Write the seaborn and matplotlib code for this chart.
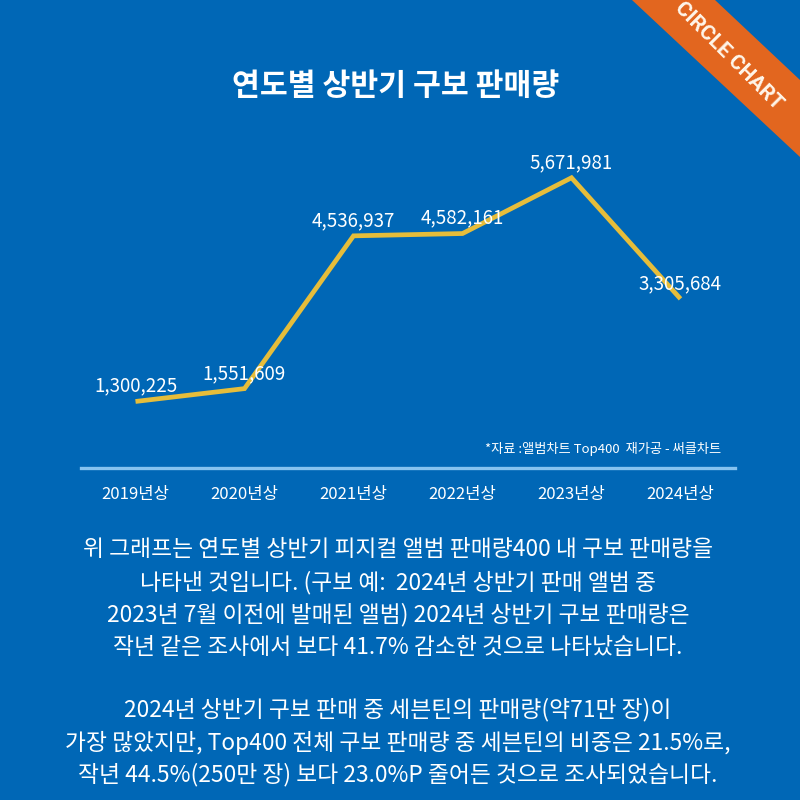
import matplotlib
matplotlib.use("Agg")
import matplotlib.pyplot as plt
from matplotlib.patches import Polygon
import seaborn as sns
import pandas as pd

# ---- data ----
periods = ["2019년상", "2020년상", "2021년상", "2022년상", "2023년상", "2024년상"]
sales = [1300225, 1551609, 4536937, 4582161, 5671981, 3305684]

title = "연도별 상반기 구보 판매량"
source_note = "*자료 :앨범차트 Top400  재가공 - 써클차트"
badge = "CIRCLE CHART"
body_lines = [
    "위 그래프는 연도별 상반기 피지컬 앨범 판매량400 내 구보 판매량을",
    "나타낸 것입니다. (구보 예:  2024년 상반기 판매 앨범 중",
    "2023년 7월 이전에 발매된 앨범) 2024년 상반기 구보 판매량은",
    "작년 같은 조사에서 보다 41.7% 감소한 것으로 나타났습니다.",
    "2024년 상반기 구보 판매 중 세븐틴의 판매량(약71만 장)이",
    "가장 많았지만, Top400 전체 구보 판매량 중 세븐틴의 비중은 21.5%로,",
    "작년 44.5%(250만 장) 보다 23.0%P 줄어든 것으로 조사되었습니다.",
]

# ---- style ----
BG = "#0067B6"
GOLD = "#E6BD3A"
AXIS = "#86C3F0"
ORANGE = "#E2661F"

sns.set_theme(style="white")
plt.rcParams["font.family"] = ["Noto Sans CJK KR", "DejaVu Sans"]

W = H = 800
fig = plt.figure(figsize=(8, 8), dpi=100, facecolor=BG)

def fx(px):
    return px / W

def fy(py):
    return 1 - py / H

# axes: x from 81 to 735 px, y from 140 to 468 px
ax = fig.add_axes([fx(81), fy(468), fx(735) - fx(81), fy(140) - fy(468)])
ax.set_facecolor(BG)

df = pd.DataFrame({"period": periods, "sales": sales})
sns.lineplot(data=df, x="period", y="sales", ax=ax, color=GOLD, linewidth=3.4,
             sort=False, solid_joinstyle="miter", solid_capstyle="butt")

ax.set_xlim(-0.5, len(periods) - 0.5)
ax.set_ylim(0, (468 - 140) / 51.17 * 1e6)

for i, v in enumerate(sales):
    ax.annotate(f"{v:,}", xy=(i, v), xytext=(0, 11), textcoords="offset points",
                ha="center", va="center", color="white", fontsize=13.5)

for s in ["left", "right", "top"]:
    ax.spines[s].set_visible(False)
ax.spines["bottom"].set_color(AXIS)
ax.spines["bottom"].set_linewidth(2.4)
ax.set_yticks([])
ax.set_xlabel("")
ax.set_ylabel("")
ax.tick_params(axis="x", length=0, pad=13, labelsize=12, labelcolor="white")

# title
fig.text(fx(396), fy(86), title, ha="center", va="center", color="white",
         fontsize=21.8, fontweight="bold")

# source note
fig.text(fx(721), fy(449), source_note, ha="right", va="center", color="white",
         fontsize=9.5)

# body text
body_y = [550, 583, 615, 647, 710, 743, 775]
for line, y in zip(body_lines, body_y):
    fig.text(fx(398), fy(y), line, ha="center", va="center", color="white",
             fontsize=16.4)

# corner badge
band = Polygon([(fx(632), fy(0)), (fx(715), fy(0)), (fx(800), fy(80)), (fx(800), fy(157))],
               closed=True, transform=fig.transFigure, facecolor=ORANGE,
               edgecolor="none", zorder=5)
fig.patches.append(band)
fig.text(fx(729), fy(56), badge, rotation=-45, ha="center", va="center",
         color="#FFF6EA", fontsize=15, fontweight="bold",
         family=["Roboto", "DejaVu Sans"], rotation_mode="anchor", zorder=6)

fig.savefig("out.png", dpi=100, facecolor=BG)
